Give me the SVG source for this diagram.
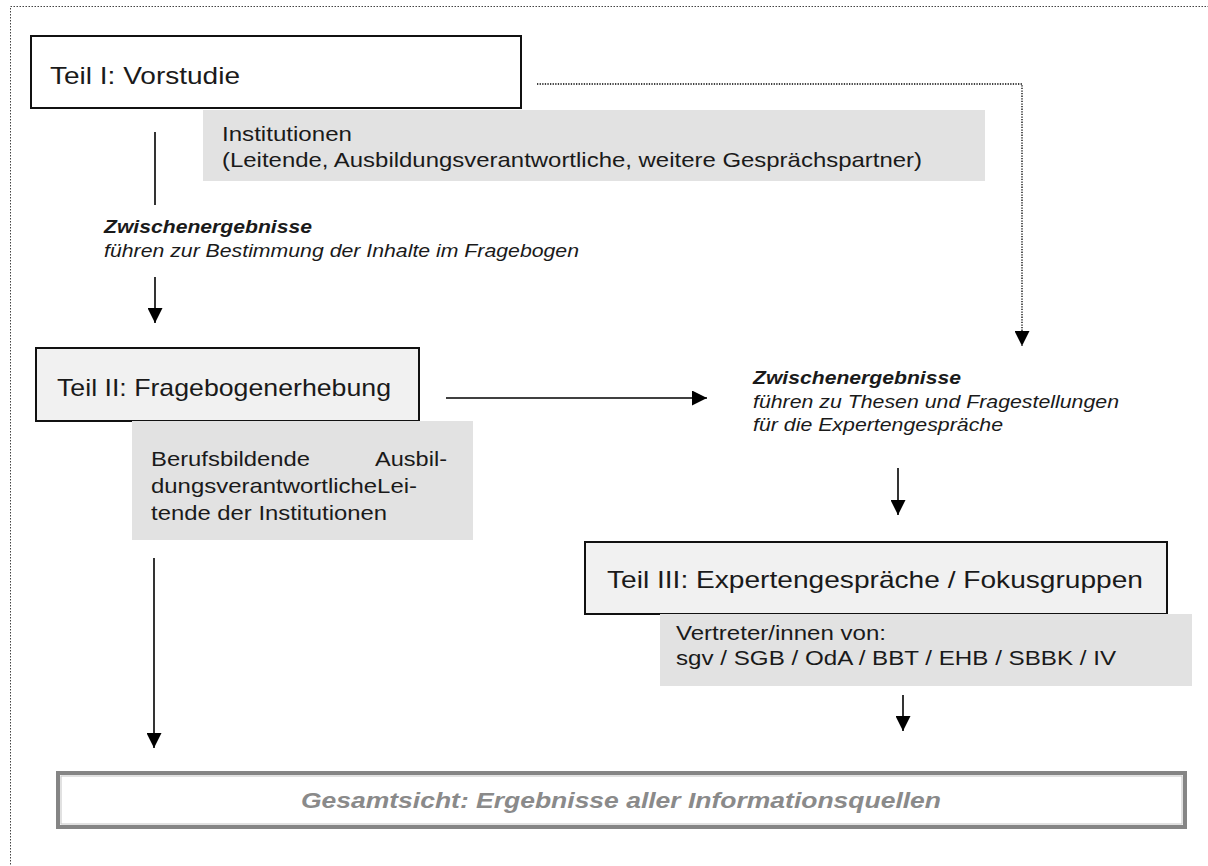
<svg xmlns="http://www.w3.org/2000/svg" width="1208" height="866" viewBox="0 0 1208 866">
<defs>
<marker id="ah" viewBox="0 0 10 10" refX="10" refY="5" markerWidth="15" markerHeight="15" markerUnits="userSpaceOnUse" orient="auto">
<path d="M0,0 L10,5 L0,10 Z" fill="#000"/>
</marker>
</defs>
<style>
text{font-family:"Liberation Sans",Arial,sans-serif;fill:#1a1a1a}
.teil{font-size:24px}
.sub{font-size:21px}
.zb{font-size:17.5px;font-weight:bold;font-style:italic}
.zi{font-size:18px;font-style:italic}
.box{fill:#fff;stroke:#111;stroke-width:2}
.boxp{fill:#f1f1f1;stroke:#111;stroke-width:2}
.gray{fill:#e2e2e2}
.line{stroke:#000;stroke-width:1.6;fill:none}
.dot{stroke:#000;stroke-width:1.3;fill:none;stroke-dasharray:1.3 1.3}
</style>
<rect x="10.5" y="6.5" width="1220" height="880" fill="none" stroke="#444" stroke-width="1" stroke-dasharray="1.5 1.5"/>

<g id="connectors">
<polyline class="dot" points="537,84 1022,84 1022,346" marker-end="url(#ah)"/>
<line class="line" x1="155" y1="132" x2="155" y2="205"/>
<line class="line" x1="155" y1="277" x2="155" y2="323" marker-end="url(#ah)"/>
<line class="line" x1="446" y1="398" x2="707" y2="398" marker-end="url(#ah)"/>
<line class="line" x1="898" y1="468" x2="898" y2="515" marker-end="url(#ah)"/>
<line class="line" x1="154" y1="558" x2="154" y2="748" marker-end="url(#ah)"/>
<line class="line" x1="903" y1="695" x2="903" y2="731" marker-end="url(#ah)"/>
</g>

<g id="teil1">
<rect class="box" x="31" y="36" width="490" height="72"/>
<text class="teil" x="50" y="84" textLength="190" lengthAdjust="spacingAndGlyphs">Teil I: Vorstudie</text>
</g>
<g id="institutionen">
<rect class="gray" x="203" y="110" width="782" height="71"/>
<text class="sub" x="222" y="141" textLength="130" lengthAdjust="spacingAndGlyphs">Institutionen</text>
<text class="sub" x="222" y="167" textLength="700" lengthAdjust="spacingAndGlyphs">(Leitende, Ausbildungsverantwortliche, weitere Gesprächspartner)</text>
</g>
<g id="zwischen1">
<text class="zb" x="104" y="233" textLength="208" lengthAdjust="spacingAndGlyphs">Zwischenergebnisse</text>
<text class="zi" x="104" y="257" textLength="475" lengthAdjust="spacingAndGlyphs">führen zur Bestimmung der Inhalte im Fragebogen</text>
</g>
<g id="teil2">
<rect class="boxp" x="36" y="348" width="383" height="73"/>
<text class="teil" x="57" y="396" textLength="334" lengthAdjust="spacingAndGlyphs">Teil II: Fragebogenerhebung</text>
</g>
<g id="berufsbildende">
<rect class="gray" x="132" y="421" width="341" height="119"/>
<text class="sub" x="151" y="466" textLength="159" lengthAdjust="spacingAndGlyphs">Berufsbildende</text>
<text class="sub" x="375" y="466" textLength="72" lengthAdjust="spacingAndGlyphs">Ausbil-</text>
<text class="sub" x="151" y="493" textLength="266" lengthAdjust="spacingAndGlyphs">dungsverantwortlicheLei-</text>
<text class="sub" x="151" y="520" textLength="236" lengthAdjust="spacingAndGlyphs">tende der Institutionen</text>
</g>
<g id="zwischen2">
<text class="zb" x="753" y="384" textLength="208" lengthAdjust="spacingAndGlyphs">Zwischenergebnisse</text>
<text class="zi" x="753" y="408" textLength="366" lengthAdjust="spacingAndGlyphs">führen zu Thesen und Fragestellungen</text>
<text class="zi" x="753" y="431" textLength="250" lengthAdjust="spacingAndGlyphs">für die Expertengespräche</text>
</g>
<g id="teil3">
<rect class="boxp" x="585" y="542" width="582" height="72"/>
<text class="teil" x="607" y="588" textLength="536" lengthAdjust="spacingAndGlyphs">Teil III: Expertengespräche / Fokusgruppen</text>
</g>
<g id="vertreter">
<rect class="gray" x="660" y="614" width="532" height="72"/>
<text class="sub" x="676" y="640" textLength="210" lengthAdjust="spacingAndGlyphs">Vertreter/innen von:</text>
<text class="sub" x="676" y="665" textLength="440" lengthAdjust="spacingAndGlyphs">sgv / SGB / OdA / BBT / EHB / SBBK / IV</text>
</g>
<g id="gesamtsicht">
<rect x="58" y="773" width="1127" height="54" fill="#fff" stroke="#858585" stroke-width="4"/>
<rect x="61" y="776" width="1121" height="48" fill="none" stroke="#c4c4c4" stroke-width="1"/>
<text x="621" y="808" text-anchor="middle" textLength="640" lengthAdjust="spacingAndGlyphs" style="font-size:22px;font-weight:bold;font-style:italic;fill:#8a8a8a">Gesamtsicht: Ergebnisse aller Informationsquellen</text>
</g>
</svg>
